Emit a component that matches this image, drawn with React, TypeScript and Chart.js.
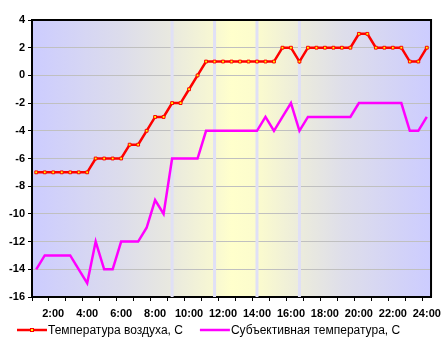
import React, { useEffect, useRef } from "react";
import { Chart, registerables } from "chart.js";

Chart.register(...registerables);

const timeLabels = [
  "1:00", "1:30", "2:00", "2:30", "3:00", "3:30", "4:00", "4:30", "5:00", "5:30",
  "6:00", "6:30", "7:00", "7:30", "8:00", "8:30", "9:00", "9:30", "10:00", "10:30",
  "11:00", "11:30", "12:00", "12:30", "13:00", "13:30", "14:00", "14:30", "15:00", "15:30",
  "16:00", "16:30", "17:00", "17:30", "18:00", "18:30", "19:00", "19:30", "20:00", "20:30",
  "21:00", "21:30", "22:00", "22:30", "23:00", "23:30", "24:00",
];

const shownTickLabels = [
  "2:00", "4:00", "6:00", "8:00", "10:00", "12:00",
  "14:00", "16:00", "18:00", "20:00", "22:00", "24:00",
];

const airTemp = [
  -7, -7, -7, -7, -7, -7, -7, -6, -6, -6,
  -6, -5, -5, -4, -3, -3, -2, -2, -1, 0,
  1, 1, 1, 1, 1, 1, 1, 1, 1, 2,
  2, 1, 2, 2, 2, 2, 2, 2, 3, 3,
  2, 2, 2, 2, 1, 1, 2,
];

const feelsLike = [
  -14, -13, -13, -13, -13, -14, -15, -12, -14, -14,
  -12, -12, -12, -11, -9, -10, -6, -6, -6, -6,
  -4, -4, -4, -4, -4, -4, -4, -3, -4, -3,
  -2, -4, -3, -3, -3, -3, -3, -3, -2, -2,
  -2, -2, -2, -2, -4, -4, -3,
];

const stripeTimes = ["9:00", "11:30", "14:00", "16:30"];

const seriesNames = ["Температура воздуха, С", "Субъективная температура, С"];

const yMin = -16;
const yMax = 4;
const yStep = 2;

const FONT = "'Liberation Sans', Arial, sans-serif";

const backgroundPlugin = {
  id: "bgPlugin",
  beforeDraw(chart: any) {
    const { ctx, chartArea } = chart;
    if (!chartArea) return;
    const { left, right, top, bottom } = chartArea;
    const g = ctx.createLinearGradient(left, 0, right, 0);
    g.addColorStop(0, "#ccccff");
    g.addColorStop(0.22, "#dcdcec");
    g.addColorStop(0.34, "#e8e8e0");
    g.addColorStop(0.46, "#f8f8d2");
    g.addColorStop(0.5, "#ffffcc");
    g.addColorStop(0.56, "#fcfccd");
    g.addColorStop(0.67, "#ececdc");
    g.addColorStop(0.78, "#dedeea");
    g.addColorStop(1, "#ccccff");
    ctx.save();
    ctx.fillStyle = g;
    ctx.fillRect(left, top, right - left, bottom - top);
    ctx.restore();
  },
  beforeDatasetsDraw(chart: any) {
    const { ctx, chartArea, scales } = chart;
    const { top, bottom, left, right } = chartArea;
    ctx.save();
    ctx.strokeStyle = "#e0e0f6";
    ctx.lineWidth = 3;
    stripeTimes.forEach((t) => {
      const idx = timeLabels.indexOf(t);
      const x = scales.x.getPixelForValue(idx);
      ctx.beginPath();
      ctx.moveTo(x, top);
      ctx.lineTo(x, bottom);
      ctx.stroke();
    });
    // top & right border
    ctx.strokeStyle = "#000";
    ctx.lineWidth = 2;
    ctx.beginPath();
    ctx.moveTo(left, top);
    ctx.lineTo(right, top);
    ctx.lineTo(right, bottom);
    ctx.stroke();
    ctx.restore();
  },
};

const legendPlugin = {
  id: "customLegend",
  afterDraw(chart: any) {
    const { ctx } = chart;
    const datasets = chart.data.datasets;
    ctx.save();
    ctx.font = `12px ${FONT}`;
    ctx.textBaseline = "middle";
    ctx.textAlign = "left";
    let x = 17;
    const lineY = 330;
    const textY = 331;
    const lineLen = 30;
    datasets.forEach((ds: any) => {
      ctx.strokeStyle = ds.borderColor;
      ctx.lineWidth = 2.5;
      ctx.beginPath();
      ctx.moveTo(x, lineY);
      ctx.lineTo(x + lineLen, lineY);
      ctx.stroke();
      if (ds.pointRadius > 0) {
        const s = 3;
        ctx.fillStyle = ds.pointBackgroundColor;
        ctx.strokeStyle = ds.pointBorderColor;
        ctx.lineWidth = 1;
        ctx.fillRect(x + lineLen / 2 - s / 2, lineY - s / 2, s, s);
        ctx.strokeRect(x + lineLen / 2 - s / 2, lineY - s / 2, s, s);
      }
      ctx.fillStyle = "#000";
      const tx = x + lineLen + 1;
      ctx.fillText(ds.label, tx, textY);
      x = tx + ctx.measureText(ds.label).width + 17;
    });
    ctx.restore();
  },
};

export default function App() {
  const ref = useRef<HTMLCanvasElement | null>(null);

  useEffect(() => {
    document.body.style.margin = "0";
    const canvas = ref.current;
    if (!canvas) return;
    const chart = new Chart(canvas, {
      type: "line",
      data: {
        labels: timeLabels,
        datasets: [
          {
            label: seriesNames[0],
            data: airTemp,
            borderColor: "#ff0000",
            borderWidth: 2.5,
            pointStyle: "rect",
            pointRadius: 2,
            pointBackgroundColor: "#ffff00",
            pointBorderColor: "#ff0000",
            pointBorderWidth: 1,
            tension: 0,
          },
          {
            label: seriesNames[1],
            data: feelsLike,
            borderColor: "#ff00ff",
            borderWidth: 2.5,
            pointRadius: 0,
            tension: 0,
          },
        ],
      },
      options: {
        animation: false,
        responsive: false,
        maintainAspectRatio: false,
        events: [],
        layout: { padding: { top: 20, right: 13, left: 0, bottom: 0 } },
        plugins: {
          legend: { display: false },
          tooltip: { enabled: false },
        },
        scales: {
          x: {
            type: "category",
            offset: true,
            grid: {
              offset: true,
              drawOnChartArea: false,
              drawTicks: true,
              tickLength: 4,
              tickWidth: 1,
              tickColor: (c: any) => (c.index !== undefined && c.index % 2 === 0 ? "#000" : "rgba(0,0,0,0)"),
            },
            border: { color: "#000", width: 2 },
            ticks: {
              autoSkip: false,
              maxRotation: 0,
              minRotation: 0,
              padding: 6,
              color: "#000",
              font: { family: FONT, size: 11, weight: "bold" },
              callback: function (this: any, value: any) {
                const l = this.getLabelForValue(value);
                return shownTickLabels.includes(l) ? l : "";
              },
            },
            afterFit: (s: any) => {
              s.height = 55;
            },
          },
          y: {
            min: yMin,
            max: yMax,
            ticks: {
              stepSize: yStep,
              padding: 3,
              color: "#000",
              font: { family: FONT, size: 11, weight: "bold" },
            },
            grid: {
              color: "#c0c0c0",
              lineWidth: 1,
              tickColor: "#000",
              tickLength: 4,
            },
            border: { color: "#000", width: 2 },
            afterFit: (s: any) => {
              s.width = 32;
            },
          },
        },
      },
      plugins: [backgroundPlugin, legendPlugin],
    });
    return () => chart.destroy();
  }, []);

  return (
    <div style={{ width: 447, height: 352, background: "#fff" }}>
      <canvas ref={ref} width={447} height={352} style={{ display: "block" }} />
    </div>
  );
}
